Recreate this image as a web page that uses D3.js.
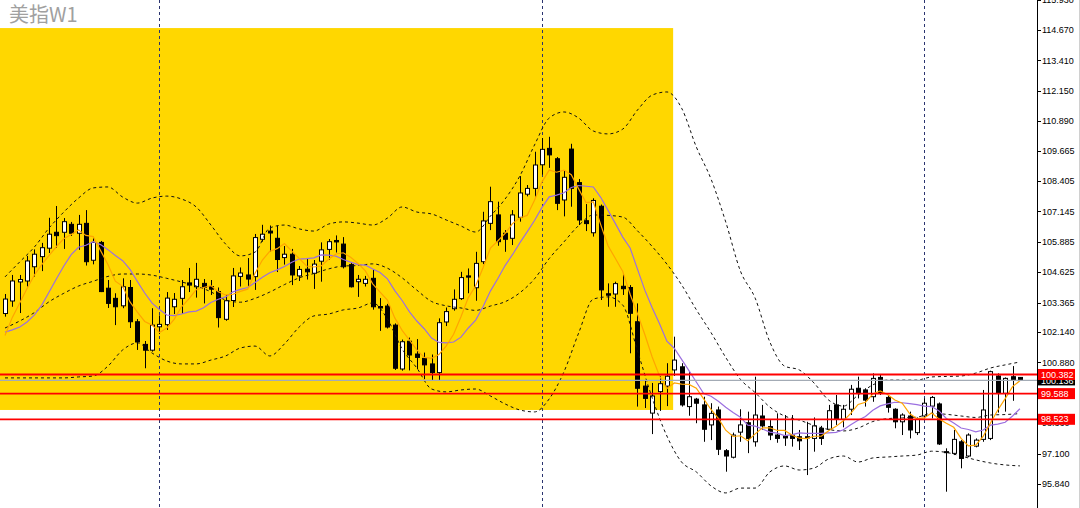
<!DOCTYPE html>
<html><head><meta charset="utf-8">
<script src="https://cdnjs.cloudflare.com/ajax/libs/d3/7.8.5/d3.min.js"></script>
<style>html,body{margin:0;padding:0;background:#fff;overflow:hidden}svg{display:block}</style>
</head><body><svg id="c" width="1080" height="508"></svg>
<script>
const chartTitle = "美指W1";
const opens = [102.91,103.43,104.22,104.26,104.85,105.27,105.62,106.28,106.28,106.61,106.24,106.65,105.12,105.86,103.96,103.54,103.23,103.99,102.57,101.63,
101.39,102.36,102.45,103.19,103.54,104.18,104.02,104.16,104.03,103.82,102.67,103.45,104.45,104.51,104.44,105.99,106.33,106.03,105.23,105.37,
104.47,104.75,104.58,105.08,105.57,105.94,105.79,104.94,104.23,104.16,104.37,103.20,103.22,102.43,100.61,101.76,101.23,101.05,100.82,100.46,
102.56,103.11,103.53,104.47,103.98,105.06,106.65,107.00,106.24,106.03,106.90,107.86,108.10,109.08,109.76,109.33,107.62,109.73,108.34,106.76,
106.26,107.36,103.73,103.72,104.04,103.99,102.57,99.90,98.78,99.67,99.90,100.57,100.70,99.05,99.36,99.12,98.29,98.91,97.22,96.95,
97.99,98.38,97.59,98.66,98.22,97.87,97.83,97.87,97.80,97.80,97.73,98.15,98.11,99.12,98.52,98.94,99.81,99.74,99.46,100.26,
99.43,98.94,98.42,98.66,97.97,98.66,99.07,99.16,97.18,97.11,97.59,97.00,97.41,97.69,97.73,100.32,99.60,100.29,100.26];
const highs = [103.72,104.51,104.51,105.30,105.57,105.84,106.88,107.37,106.87,106.71,107.00,107.20,106.03,105.92,104.30,103.75,104.37,104.30,102.68,101.77,
103.13,102.83,103.80,103.76,104.30,104.80,105.01,104.34,104.30,103.99,103.68,104.80,104.82,105.21,106.21,106.59,106.56,106.55,105.71,105.59,
104.88,105.21,105.13,105.86,106.00,106.15,106.08,105.01,104.51,104.47,104.73,103.55,103.31,102.50,101.83,101.91,101.85,101.29,101.21,102.71,
103.16,103.91,104.64,104.78,105.47,107.13,108.17,107.55,106.37,107.20,108.61,108.24,109.62,110.19,110.24,109.40,108.86,109.95,108.49,107.45,
107.69,107.43,104.16,104.23,104.58,104.09,103.33,100.15,100.03,100.32,100.85,101.95,100.85,100.50,99.41,99.46,99.19,99.05,97.29,97.97,
98.94,98.84,100.29,99.12,98.49,98.77,98.70,98.70,98.08,98.42,98.60,98.25,99.12,99.53,99.12,99.95,100.29,99.81,100.43,100.36,
99.53,98.98,98.77,98.84,98.60,99.39,99.49,99.22,97.32,98.08,97.66,97.94,97.73,99.74,100.54,100.43,100.26,100.73,100.26];
const lows = [102.78,103.19,102.93,104.03,104.44,104.67,105.42,105.63,105.59,106.13,105.55,104.90,104.95,103.80,103.14,102.43,103.13,102.31,101.40,100.64,
101.33,102.06,102.23,102.89,102.89,103.80,103.57,103.33,103.68,102.33,102.61,103.18,104.03,103.97,103.89,105.89,105.47,104.63,104.94,104.09,
104.26,104.32,103.93,104.23,105.14,105.44,104.78,103.99,103.60,104.03,103.07,102.19,102.29,100.57,100.54,100.55,100.61,100.19,100.15,100.15,
102.39,103.03,103.47,103.75,103.44,104.96,106.37,105.72,105.47,105.75,106.72,107.77,107.76,108.67,108.95,107.20,106.94,107.34,106.58,106.33,
106.10,103.47,103.19,103.19,103.68,101.26,99.05,98.99,97.91,98.87,99.07,100.32,99.05,98.67,98.36,97.59,97.66,97.04,96.35,96.90,
97.59,97.12,97.39,98.08,97.66,97.55,97.42,97.39,97.25,96.21,97.18,97.46,98.08,98.29,98.19,98.70,99.39,99.05,99.25,99.53,
98.80,98.15,97.87,97.73,97.87,98.56,98.56,97.46,95.52,97.04,96.49,96.95,97.36,97.59,97.66,98.80,98.84,99.29,100.14];
const closes = [103.51,104.26,104.32,105.09,105.37,105.64,106.20,106.14,106.72,106.24,106.61,105.06,105.86,103.82,103.33,103.19,104.02,102.57,101.73,101.39,
102.43,102.46,103.55,103.50,104.02,104.09,104.33,103.99,103.92,102.74,103.44,104.47,104.59,104.34,106.06,106.20,106.25,105.15,105.37,104.51,
104.74,104.64,104.96,105.55,105.89,105.88,104.85,104.02,104.33,104.33,103.19,103.14,102.35,100.64,101.74,101.19,101.09,100.78,100.46,102.53,
102.99,103.50,104.40,104.42,104.99,106.75,107.55,105.89,105.99,107.00,107.91,108.10,109.07,109.72,109.49,107.48,108.56,108.10,106.79,106.64,
107.60,103.89,103.67,104.15,103.94,102.92,99.81,99.39,99.49,100.00,100.31,100.98,99.12,99.46,99.19,98.11,98.77,97.28,97.00,97.87,
98.29,97.73,98.70,98.25,97.87,97.73,97.75,97.73,97.63,97.75,98.25,97.73,98.88,98.52,98.94,99.77,99.60,99.32,100.22,99.60,
99.02,98.42,98.70,98.08,98.52,99.19,99.43,97.50,97.14,97.69,96.90,97.87,97.66,98.91,100.50,99.60,100.22,100.15,100.14];

// orange moving average (one value per bar)
const maFast = [102.00,102.75,103.35,103.95,104.51,104.94,105.32,105.69,106.01,106.19,106.38,106.15,106.10,105.52,104.94,104.25,104.04,103.39,102.97,102.58,
102.43,102.12,102.31,102.67,103.19,103.52,103.90,103.99,104.07,103.81,103.68,103.71,103.83,103.92,104.58,105.13,105.49,105.60,105.81,105.50,
105.20,104.88,104.84,104.88,105.16,105.38,105.43,105.24,104.99,104.68,104.14,103.80,103.47,102.73,102.21,101.81,101.40,101.09,101.05,101.21,
101.57,102.05,102.78,103.57,104.06,104.81,105.62,105.92,106.23,106.64,106.87,106.98,107.61,108.36,108.86,108.77,108.86,108.67,108.08,107.51,
107.54,106.60,105.72,105.19,104.65,103.71,102.90,102.04,101.11,100.32,99.80,100.03,99.98,99.97,99.81,99.37,98.93,98.56,98.07,97.81,
97.84,97.63,97.92,98.17,98.17,98.06,98.06,97.87,97.74,97.72,97.82,97.82,98.05,98.23,98.46,98.77,99.14,99.23,99.57,99.70,
99.55,99.32,99.19,98.76,98.55,98.58,98.78,98.54,98.36,98.19,97.73,97.42,97.45,97.81,98.37,98.91,99.38,99.88,100.12];
// purple moving average (one value per bar)
const maSlow = [102.14,102.23,102.35,102.56,102.85,103.26,103.80,104.35,104.88,105.35,105.66,105.74,105.89,105.77,105.56,105.32,105.10,104.74,104.24,103.76,
103.34,103.08,102.85,102.82,102.89,102.98,103.01,103.15,103.37,103.50,103.60,103.81,103.91,103.99,104.20,104.41,104.60,104.72,104.86,105.04,
105.17,105.19,105.22,105.34,105.33,105.29,105.15,105.04,104.94,104.92,104.76,104.61,104.35,103.86,103.45,102.98,102.60,102.28,101.89,101.71,
101.69,101.73,101.93,102.31,102.64,103.19,103.84,104.35,104.90,105.35,105.84,106.30,106.77,107.30,107.75,107.82,107.92,108.14,108.22,108.19,
108.16,107.73,107.19,106.64,106.08,105.63,104.75,103.88,103.15,102.49,101.76,101.47,101.01,100.54,100.07,99.59,99.48,99.27,99.02,98.81,
98.61,98.28,98.24,98.12,97.99,97.95,97.85,97.89,97.96,97.94,97.94,97.94,97.96,97.98,98.09,98.30,98.48,98.64,98.90,99.08,
99.16,99.23,99.21,99.17,99.13,99.07,99.05,98.87,98.56,98.37,98.16,98.10,98.00,98.08,98.28,98.32,98.40,98.66,98.96];

// Bollinger bands, read every second bar (bars 0, 2, 4 ... 138)
const bbStep = 2;
const bbUpper = [104.43,105.05,105.67,106.46,107.12,107.70,108.12,108.16,107.74,107.49,
107.70,107.78,107.66,107.33,106.58,105.79,105.30,105.46,106.46,106.58,
106.42,106.33,106.62,106.71,106.66,106.58,106.87,107.33,107.12,107.04,
106.79,106.54,106.29,106.95,107.66,108.61,109.90,111.02,111.27,111.02,
110.48,110.36,110.56,111.35,111.97,112.10,111.43,109.82,108.49,106.71,
104.67,103.55,101.73,100.73,100.57,100.03,99.32,99.07,99.53,99.95,
100.15,100.15,100.15,100.28,100.30,100.32,100.44,100.65,100.78,100.90];
const bbMid = [102.31,102.60,102.95,103.40,103.75,104.05,104.25,104.45,104.55,104.55,
104.50,104.37,104.22,104.05,103.81,103.47,103.38,103.54,103.80,104.11,
104.39,104.57,104.76,104.88,104.90,104.97,104.79,104.39,103.88,103.41,
103.23,103.14,103.04,103.22,103.40,103.77,104.35,105.19,105.88,106.56,
107.00,106.98,106.91,106.34,105.69,104.96,104.10,103.07,102.12,101.09,
100.18,99.63,99.03,98.66,98.49,98.27,98.10,98.04,98.16,98.43,
98.55,98.58,98.61,98.77,98.73,98.66,98.60,98.70,98.72,98.76];
const bbLower = [100.24,100.24,100.24,100.24,100.24,100.28,100.32,100.73,101.40,101.69,
101.27,100.94,100.82,100.82,100.98,101.15,101.48,101.56,101.15,101.65,
102.35,102.81,102.89,103.06,103.14,103.35,102.68,101.44,100.65,99.78,
99.66,99.74,99.78,99.49,99.16,98.91,98.83,99.37,100.49,102.10,
103.51,103.60,103.26,101.36,99.41,97.83,96.75,96.34,95.76,95.47,
95.67,95.67,96.34,96.59,96.42,96.50,96.88,97.00,96.75,96.92,
96.96,97.00,97.04,97.20,97.15,97.00,96.84,96.71,96.63,96.59];

const priceTicks = [115.930,114.670,113.410,112.150,110.890,109.665,108.405,107.145,105.885,104.625,103.365,102.140,100.880,99.620,98.360,97.100,95.840];
const levelLines = [100.382, 99.588, 98.523];
const lastPrice = 100.136;
const separatorBars = [21, 73, 125];
const zoneBars = [-0.68, 90.85];
const zonePrices = [114.75, 98.91];

const W = 1080, H = 508, axisX = 1037;
const svg = d3.select("#c");
const x = d3.scaleLinear().domain([0, opens.length - 1]).range([5, 1019.9]);
const y = d3.scaleLinear().domain([94.844, 115.914]).range([H, 0]);
const fmt = d3.format(".3f");

svg.append("rect").attr("width", W).attr("height", H).attr("fill", "#fff");
svg.append("defs").append("clipPath").attr("id", "plot")
  .append("rect").attr("x", 0).attr("y", 0).attr("width", axisX).attr("height", H);
const g = svg.append("g").attr("clip-path", "url(#plot)");

// highlighted zone
g.append("rect")
  .attr("x", x(zoneBars[0])).attr("width", x(zoneBars[1]) - x(zoneBars[0]))
  .attr("y", y(zonePrices[0])).attr("height", y(zonePrices[1]) - y(zonePrices[0]))
  .attr("fill", "#FFD700");

// period separators
g.selectAll("line.sep").data(separatorBars).join("line").attr("class", "sep")
  .attr("x1", d => Math.round(x(d)) + 0.5).attr("x2", d => Math.round(x(d)) + 0.5)
  .attr("y1", 0).attr("y2", H)
  .attr("stroke", "#2b3470").attr("stroke-width", 1).attr("stroke-dasharray", "3,3");

// candles
const candles = opens.map((o, i) => ({ i, o, h: highs[i], l: lows[i], c: closes[i] }));
const cg = g.append("g");
cg.selectAll("line.wick").data(candles).join("line").attr("class", "wick")
  .attr("x1", d => Math.round(x(d.i)) + 0.5).attr("x2", d => Math.round(x(d.i)) + 0.5)
  .attr("y1", d => y(d.h)).attr("y2", d => y(d.l))
  .attr("stroke", "#000").attr("stroke-width", 1);
cg.selectAll("rect.body").data(candles).join("rect").attr("class", "body")
  .attr("x", d => Math.round(x(d.i)) - 1.5).attr("width", 4)
  .attr("y", d => y(Math.max(d.o, d.c)))
  .attr("height", d => Math.max(1, Math.abs(y(d.o) - y(d.c))))
  .attr("fill", d => d.c >= d.o ? "#fff" : "#000")
  .attr("stroke", "#000").attr("stroke-width", 1);

// Bollinger bands
const bbLine = d3.line().x((d, i) => x(i * bbStep)).y(d => y(d)).curve(d3.curveMonotoneX);
[bbUpper, bbMid, bbLower].forEach(arr => {
  g.append("path").attr("d", bbLine(arr)).attr("fill", "none")
    .attr("stroke", "#111").attr("stroke-width", 1).attr("stroke-dasharray", "3,3");
});

// moving averages
const maLine = d3.line().x((d, i) => x(i)).y(d => y(d));
g.append("path").attr("d", maLine(maSlow)).attr("fill", "none").attr("stroke", "#9b6fe0").attr("stroke-width", 1.2);
g.append("path").attr("d", maLine(maFast)).attr("fill", "none").attr("stroke", "#ffa500").attr("stroke-width", 1.2);

// horizontal price lines
g.append("line").attr("x1", 0).attr("x2", axisX).attr("y1", y(lastPrice)).attr("y2", y(lastPrice))
  .attr("stroke", "#a3abb5").attr("stroke-width", 1.3);
g.selectAll("line.lvl").data(levelLines).join("line").attr("class", "lvl")
  .attr("x1", 0).attr("x2", axisX).attr("y1", d => y(d)).attr("y2", d => y(d))
  .attr("stroke", "#ff0000").attr("stroke-width", 1.8);

// right axis
svg.append("line").attr("x1", axisX + 0.5).attr("x2", axisX + 0.5).attr("y1", 0).attr("y2", H).attr("stroke", "#000");
svg.append("line").attr("x1", W - 0.5).attr("x2", W - 0.5).attr("y1", 0).attr("y2", H).attr("stroke", "#d0d0d0");
const ax = svg.append("g");
ax.selectAll("line.tick").data(priceTicks).join("line").attr("class", "tick")
  .attr("x1", axisX).attr("x2", axisX + 4)
  .attr("y1", d => Math.round(y(d)) + 0.5).attr("y2", d => Math.round(y(d)) + 0.5).attr("stroke", "#000");
ax.selectAll("text.tl").data(priceTicks).join("text").attr("class", "tl")
  .attr("x", axisX + 5).attr("y", d => y(d)).attr("dy", "0.35em")
  .attr("font-family", "'Liberation Sans', Arial, sans-serif").attr("font-size", 9).attr("fill", "#000")
  .text(d => fmt(d));

// current price label
ax.append("rect").attr("x", axisX + 1).attr("y", y(lastPrice) - 5).attr("width", 37).attr("height", 10).attr("fill", "#000");
ax.append("text").attr("x", axisX + 4).attr("y", y(lastPrice)).attr("dy", "0.35em")
  .attr("font-family", "'Liberation Sans', Arial, sans-serif").attr("font-size", 9).attr("fill", "#fff").text(fmt(lastPrice));

// level labels
const lv = ax.selectAll("g.lv").data(levelLines).join("g").attr("class", "lv");
lv.append("rect").attr("x", axisX + 1).attr("y", d => y(d) - 5.5).attr("width", 37).attr("height", 11).attr("fill", "#ff0000");
lv.append("text").attr("x", axisX + 4).attr("y", d => y(d)).attr("dy", "0.35em")
  .attr("font-family", "'Liberation Sans', Arial, sans-serif").attr("font-size", 9).attr("fill", "#fff").text(d => fmt(d));

// title
svg.append("text").attr("x", 9).attr("y", 22)
  .attr("font-family", "'Noto Sans CJK SC', 'Noto Sans', sans-serif").attr("font-size", 20)
  .attr("fill", "#a0a0a0").text(chartTitle);
</script></body></html>
